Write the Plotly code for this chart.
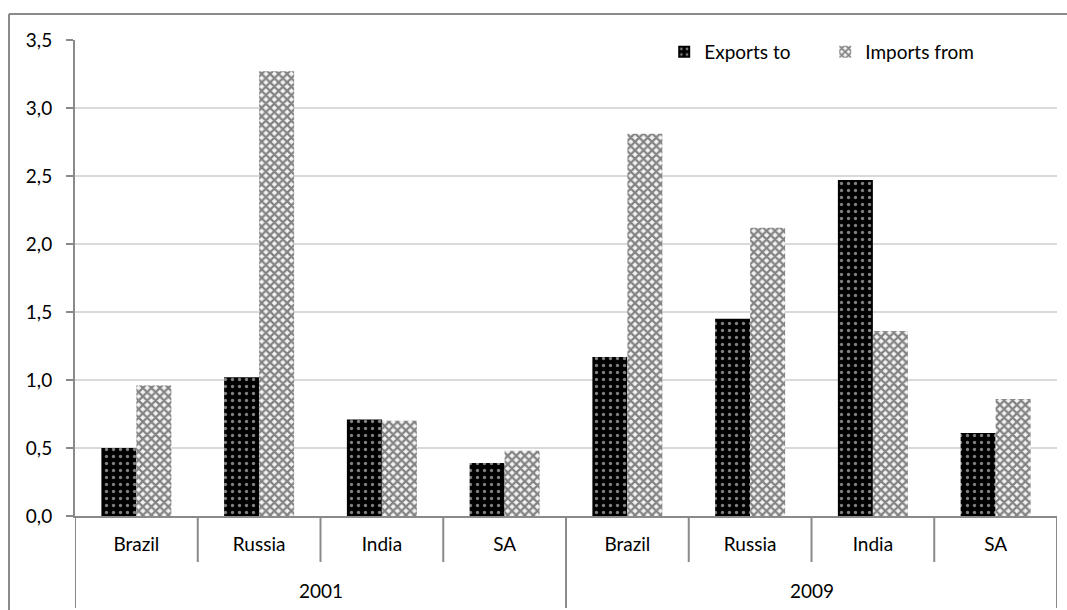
import plotly.graph_objects as go

years = ["2001"] * 4 + ["2009"] * 4
countries = ["Brazil", "Russia", "India", "SA"] * 2
exports_to = [0.50, 1.02, 0.71, 0.39, 1.17, 1.45, 2.47, 0.61]
imports_from = [0.96, 3.27, 0.70, 0.48, 2.81, 2.12, 1.36, 0.86]
y_ticks = [0.0, 0.5, 1.0, 1.5, 2.0, 2.5, 3.0, 3.5]
year_labels = ["2001", "2009"]

keys = [f"{y} {c}" for y, c in zip(years, countries)]

FONT = "Lato"
FS = 19
AXIS_GRAY = "#8a8a8a"
PLOT_H = 476  # plot area height in px (for paper-relative offsets)

fig = go.Figure()
fig.add_trace(go.Bar(
    x=keys, y=exports_to, name="Exports to",
    marker=dict(color="black", line=dict(width=0),
                pattern=dict(shape=".", bgcolor="black", fgcolor="white",
                             size=7, solidity=0.18, fillmode="overlay")),
))
fig.add_trace(go.Bar(
    x=keys, y=imports_from, name="Imports from",
    marker=dict(color="white", line=dict(width=0),
                pattern=dict(shape="x", bgcolor="#f4f4f4", fgcolor="#111111",
                             size=6, solidity=0.6, fillmode="overlay")),
))

fig.update_layout(
    width=1067, height=610,
    margin=dict(l=75, r=10, t=40, b=94),
    paper_bgcolor="white", plot_bgcolor="white",
    separators=", ",
    barmode="group", bargap=0.43, bargroupgap=0,
    font=dict(family=FONT, size=FS, color="black"),
    showlegend=True,
    legend=dict(orientation="h", x=0.60, xanchor="left", y=0.975, yanchor="middle",
                bgcolor="rgba(0,0,0,0)", font=dict(family=FONT, size=FS),
                entrywidth=116, entrywidthmode="pixels", traceorder="normal"),
    xaxis=dict(type="category", tickvals=keys, ticktext=countries,
               showline=True, linecolor=AXIS_GRAY, linewidth=2,
               ticks="", ticklabelstandoff=10, showgrid=False,
               range=[-0.5, len(keys) - 0.5],
               tickfont=dict(family=FONT, size=FS)),
    yaxis=dict(range=[0, 3.5], tickvals=y_ticks, tickformat=".1f",
               showgrid=True, gridcolor="#d9d9d9", gridwidth=2,
               showline=True, linecolor=AXIS_GRAY, linewidth=2,
               ticks="outside", ticklen=7, tickcolor=AXIS_GRAY, tickwidth=2,
               ticklabelstandoff=10,
               zeroline=False, tickfont=dict(family=FONT, size=FS)),
)

# category separators (country level)
for i in range(1, len(keys)):
    if i % 4 == 0:
        continue
    fig.add_shape(type="line", xref="x", yref="paper",
                  x0=i - 0.5, x1=i - 0.5, y0=0, y1=-46 / PLOT_H,
                  line=dict(color=AXIS_GRAY, width=2))
# year dividers
for i in (0, 4, 8):
    fig.add_shape(type="line", xref="x", yref="paper",
                  x0=i - 0.5, x1=i - 0.5, y0=0, y1=-92 / PLOT_H,
                  line=dict(color=AXIS_GRAY, width=2))
# year labels
for j, yl in enumerate(year_labels):
    fig.add_annotation(text=yl, xref="x", yref="paper", x=j * 4 + 1.5,
                       y=-74 / PLOT_H, showarrow=False, yanchor="middle",
                       font=dict(family=FONT, size=FS, color="black"))

# outer chart border (left and top edges visible in the frame)
fig.add_shape(type="line", xref="paper", yref="paper",
              x0=-0.0672, x1=-0.0672, y0=-0.3, y1=1.0546,
              line=dict(color=AXIS_GRAY, width=2))
fig.add_shape(type="line", xref="paper", yref="paper",
              x0=-0.0672, x1=1.02, y0=1.0546, y1=1.0546,
              line=dict(color=AXIS_GRAY, width=2))

fig.write_html("out.html")
